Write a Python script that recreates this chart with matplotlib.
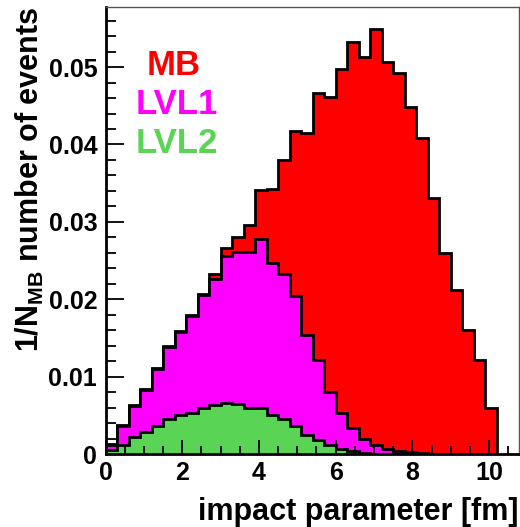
import numpy as np
import matplotlib
matplotlib.use("Agg")
import matplotlib.pyplot as plt
from matplotlib.ticker import MultipleLocator

plt.rcParams['font.family'] = ['Liberation Sans', 'DejaVu Sans']
plt.rcParams['font.weight'] = 'bold'
plt.rcParams['mathtext.fontset'] = 'custom'
plt.rcParams['mathtext.rm'] = 'Liberation Sans:bold'
plt.rcParams['mathtext.bf'] = 'Liberation Sans:bold'
plt.rcParams['mathtext.it'] = 'Liberation Sans:bold'

# impact parameter bins (fm)
bin_edges = np.round(np.arange(0, 10.2001, 0.3), 2)

mb = [0.00125, 0.0037, 0.0063, 0.0084, 0.0111, 0.0140, 0.0159, 0.0179, 0.0207,
      0.0233, 0.0266, 0.0281, 0.0296, 0.0341, 0.0343, 0.0380, 0.0418, 0.0415,
      0.0467, 0.0461, 0.0497, 0.0533, 0.0513, 0.0549, 0.0506, 0.0493, 0.0449,
      0.0409, 0.0331, 0.0260, 0.0212, 0.0160, 0.01215, 0.0060]

lvl1 = [0.0012, 0.0036, 0.0062, 0.0083, 0.0110, 0.0138, 0.0158, 0.0178, 0.0205,
        0.0226, 0.0256, 0.0261, 0.0261, 0.0278, 0.0247, 0.0232, 0.0204, 0.0154,
        0.01215, 0.0080, 0.0053, 0.0034, 0.0020, 0.0012, 0.0006, 0.0004, 0.0002,
        0.0001, 0.00005, 0.0, 0.0, 0.0, 0.0, 0.0]

lvl2 = [0.0005, 0.0011, 0.0022, 0.0029, 0.0036, 0.0045, 0.0050, 0.0053, 0.0060,
        0.0063, 0.0066, 0.0064, 0.0060, 0.0060, 0.0050, 0.0045, 0.0036, 0.0025,
        0.0018, 0.0011, 0.0006, 0.0004, 0.0001, 0.0, 0.0, 0.0, 0.0, 0.0, 0.0,
        0.0, 0.0, 0.0, 0.0, 0.0]

series_names = ["MB", "LVL1", "LVL2"]
series_colors = ["#ff0000", "#ff00ff", "#59d454"]

fig = plt.figure(figsize=(5.2, 5.27), dpi=100)
ax = fig.add_axes([0.203, 0.1385, 0.795, 0.848])

for vals, col in zip([mb, lvl1, lvl2], series_colors):
    ax.stairs(vals, bin_edges, fill=True, color=col, lw=0)
    ax.stairs(vals, bin_edges, color='black', lw=2.0, baseline=0)

ax.set_xlim(0, 10.78)
ax.set_ylim(0, 0.05775)

ax.xaxis.set_major_locator(MultipleLocator(2))
ax.xaxis.set_minor_locator(MultipleLocator(0.5))
ax.yaxis.set_major_locator(MultipleLocator(0.01))
ax.yaxis.set_minor_locator(MultipleLocator(0.002))

ax.tick_params(axis='both', which='both', direction='in', top=False, right=False,
               labelsize=18, width=1.3)
ax.tick_params(axis='y', which='major', length=13, pad=6)
ax.tick_params(axis='y', which='minor', length=7)
ax.tick_params(axis='x', which='major', length=10, pad=5)
ax.tick_params(axis='x', which='minor', length=6)

ax.set_xticks([0, 2, 4, 6, 8, 10])
ax.set_xticklabels(['0', '2', '4', '6', '8', '10'])
ax.set_yticks([0, 0.01, 0.02, 0.03, 0.04, 0.05])
ax.set_yticklabels(['0', '0.01', '0.02', '0.03', '0.04', '0.05'])
for lab in ax.get_xticklabels() + ax.get_yticklabels():
    lab.set_fontweight('bold')

for s in ['left', 'bottom']:
    ax.spines[s].set_linewidth(2.0)
    ax.spines[s].set_color('black')
for s in ['top', 'right']:
    ax.spines[s].set_linewidth(1.0)
    ax.spines[s].set_color('#555555')

ax.set_xlabel('impact parameter [fm]', fontsize=22, fontweight='bold', loc='right', labelpad=9)
ax.set_ylabel(r'1/N$_{\mathrm{MB}}$ number of events', fontsize=22, fontweight='bold',
              loc='top', labelpad=2)

for name, col, xx, yy in zip(series_names, series_colors, [0.166, 0.173, 0.172],
                             [0.870, 0.782, 0.695]):
    ax.text(xx, yy, name, color=col, fontsize=25, fontweight='bold',
            ha='center', va='center', transform=ax.transAxes)

fig.savefig('out.png', dpi=100)
